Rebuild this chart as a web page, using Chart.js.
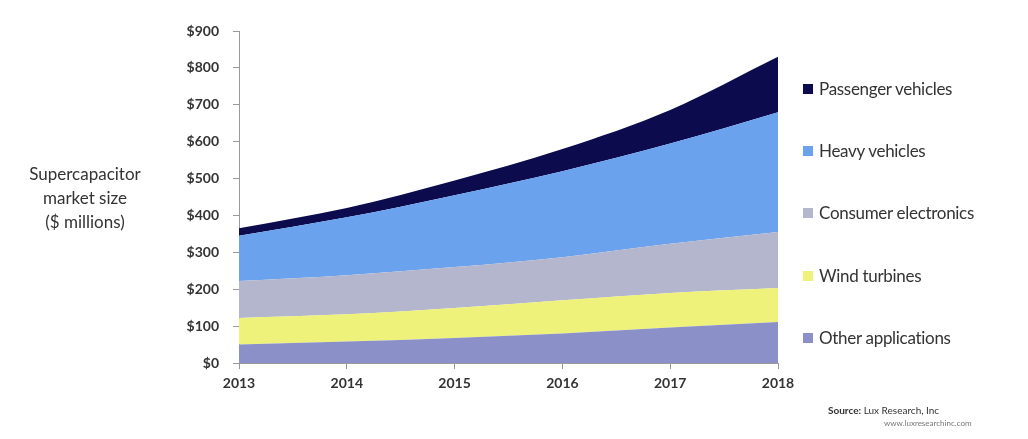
<!DOCTYPE html>
<html>
<head>
<meta charset="utf-8">
<script src="https://cdn.jsdelivr.net/npm/chart.js@4"></script>
<style>
  body { margin: 0; background: #fff; font-family: Lato, "Open Sans", sans-serif; }
  #wrap { position: relative; width: 1028px; height: 439px; overflow: hidden; }
  #chart { position: absolute; left: 0; top: 0; }
  #ytitle { position: absolute; left: 0; top: 162px; width: 170px; text-align: center;
            font-size: 17px; line-height: 24px; color: #333; }
  #legend { position: absolute; left: 803px; top: 0; }
  .item { position: absolute; left: 0; white-space: nowrap; font-size: 17px; color: #333; letter-spacing: -0.3px; }
  .item span.sw { display: inline-block; width: 10px; height: 10px; margin-right: 6px; vertical-align: 1px; }
  #source { position: absolute; left: 828px; top: 404px; font-size: 10px; color: #333; white-space: nowrap; }
</style>
</head>
<body>
<div id="wrap">
  <canvas id="chart" width="1028" height="439"></canvas>
  <div id="ytitle">Supercapacitor<br>market size<br>($ millions)</div>
  <div id="legend"></div>
  <div id="source"><b>Source:</b> Lux Research, Inc<br><span style="margin-left:56px;font-size:8px;color:#777">www.luxresearchinc.com</span></div>
</div>
<script>
// --- DATA ---
const years = ['2013', '2014', '2015', '2016', '2017', '2018'];
const otherApps    = [50, 58, 68, 80, 96, 111];
const windTurbines = [72, 74, 81, 90, 94, 92];
const consumerElec = [100, 106, 111, 117, 133, 152];
const heavyVeh     = [123, 157, 195, 233, 272, 325];
const passengerVeh = [20, 25, 40, 60, 91, 150];
const yTicks = [0, 100, 200, 300, 400, 500, 600, 700, 800, 900];

// bottom to top
const series = [
    { label: 'Other applications', data: otherApps, color: '#8b90c9' },
    { label: 'Wind turbines', data: windTurbines, color: '#eef27a' },
    { label: 'Consumer electronics', data: consumerElec, color: '#b3b6cc' },
    { label: 'Heavy vehicles', data: heavyVeh, color: '#6aa2ee' },
    { label: 'Passenger vehicles', data: passengerVeh, color: '#0b0b4d' }
];

// --- LEGEND (top to bottom) ---
const legend = document.getElementById('legend');
const legendY = [78, 140, 202, 265, 327];
series.slice().reverse().forEach((s, i) => {
    const el = document.createElement('div');
    el.className = 'item';
    el.style.top = legendY[i] + 'px';
    el.innerHTML = `<span class="sw" style="background:${s.color}"></span>${s.label}`;
    legend.appendChild(el);
});

// --- CHART ---
const tickFont = { family: 'Lato, sans-serif', size: 14, weight: 'bold' };
new Chart(document.getElementById('chart'), {
    type: 'line',
    data: {
        labels: years,
        datasets: series.map((s, i) => ({
            label: s.label,
            data: s.data,
            backgroundColor: s.color,
            borderColor: s.color,
            borderWidth: 0,
            pointRadius: 0,
            cubicInterpolationMode: 'monotone',
            fill: i === 0 ? 'origin' : '-1'
        }))
    },
    options: {
        responsive: false,
        animation: false,
        layout: { padding: { left: 0, right: 250, top: 31, bottom: 0 } },
        plugins: { legend: { display: false }, tooltip: { enabled: false } },
        scales: {
            x: {
                offset: false,
                grid: { drawOnChartArea: false, tickLength: 6, color: '#999' },
                border: { color: '#999' },
                ticks: { color: '#333', font: tickFont, padding: 6, maxRotation: 0 },
                afterFit: s => { s.height = 76; }
            },
            y: {
                stacked: true,
                min: 0,
                max: 900,
                afterBuildTicks: s => { s.ticks = yTicks.map(v => ({ value: v })); },
                grid: { drawOnChartArea: false, tickLength: 6, color: '#999' },
                border: { color: '#999' },
                ticks: { color: '#333', font: tickFont, padding: 14, callback: v => '$' + v },
                afterFit: s => { s.width = 239; }
            }
        }
    }
});
</script>
</body>
</html>
